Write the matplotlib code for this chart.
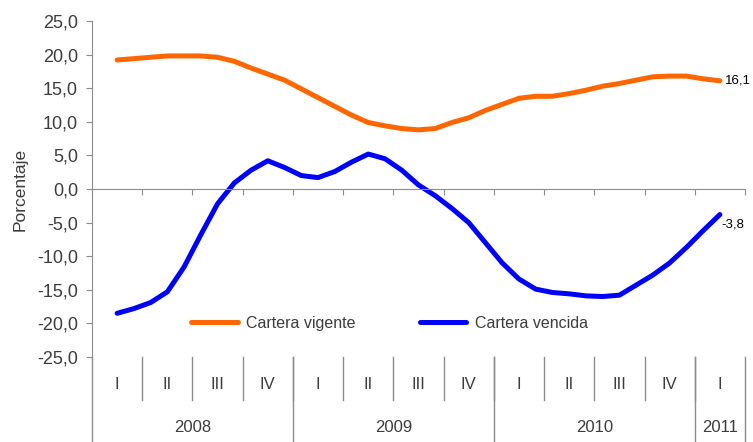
"""Cartera vigente vs cartera vencida, variación anual (%)."""

import matplotlib

matplotlib.use("Agg")
import matplotlib.pyplot as plt
from matplotlib.ticker import FuncFormatter

plt.rcParams["font.family"] = ["Liberation Sans", "DejaVu Sans"]

# monthly observations, Jan 2008 .. Mar 2011 plotted at quarter centres
CARTERA_VIGENTE = [
    19.2, 19.4, 19.6, 19.8, 19.8, 19.8, 19.6, 19.0, 18.0, 17.1, 16.2, 14.9,
    13.6, 12.3, 11.0, 9.9, 9.4, 9.0, 8.8, 9.0, 9.9, 10.6, 11.7, 12.6,
    13.5, 13.8, 13.8, 14.2, 14.7, 15.3, 15.7, 16.2, 16.7, 16.8, 16.8, 16.4,
    16.1,
]
CARTERA_VENCIDA = [
    -18.5, -17.8, -16.9, -15.3, -11.6, -6.8, -2.2, 0.9, 2.8, 4.2, 3.2, 2.0,
    1.7, 2.6, 4.0, 5.2, 4.5, 2.8, 0.6, -1.0, -2.9, -5.0, -8.0, -11.0,
    -13.4, -14.9, -15.4, -15.6, -15.9, -16.0, -15.8, -14.3, -12.8, -11.0, -8.7, -6.2,
    -3.8,
]
QUARTERS = ["I", "II", "III", "IV"] * 3 + ["I"]
YEARS = ["2008", "2009", "2010", "2011"]
YEAR_QUARTERS = [4, 4, 4, 1]
Y_TICKS = [-25, -20, -15, -10, -5, 0, 5, 10, 15, 20, 25]

ORANGE = "#FF6600"
BLUE = "#0000FF"
GRID = "#8c8c8c"
TEXT = "#3c3c3c"


def _comma(v: float) -> str:
    return f"{v:.1f}".replace(".", ",")


def main() -> None:
    fig = plt.figure(figsize=(7.53, 4.42), dpi=100)
    ax = fig.add_axes([92 / 753, 1 - 357 / 442, (745 - 92) / 753, 336 / 442])

    x = [0.5 + k / 3 for k in range(len(CARTERA_VIGENTE))]
    ax.plot(x, CARTERA_VIGENTE, color=ORANGE, linewidth=3.6, solid_capstyle="round",
            label="Cartera vigente")
    ax.plot(x, CARTERA_VENCIDA, color=BLUE, linewidth=3.6, solid_capstyle="round",
            label="Cartera vencida")

    n_q = len(QUARTERS)
    ax.set_xlim(0, n_q)
    ax.set_ylim(-25, 25)
    ax.set_yticks(Y_TICKS)
    ax.yaxis.set_major_formatter(FuncFormatter(lambda v, _: _comma(v)))
    ax.tick_params(axis="y", direction="out", length=4, color=GRID, labelsize=13,
                   labelcolor=TEXT, pad=6)

    ax.spines["top"].set_visible(False)
    ax.spines["right"].set_visible(False)
    ax.spines["left"].set_color(GRID)
    ax.spines["bottom"].set_color(GRID)
    ax.spines["bottom"].set_position(("data", 0))
    ax.set_xticks(range(n_q + 1))
    ax.set_xticklabels([])
    ax.tick_params(axis="x", direction="out", length=4, color=GRID)

    ax.set_ylabel("Porcentaje", fontsize=12.5, color=TEXT, labelpad=7)

    # category axis drawn below the plot area
    trans = ax.get_xaxis_transform()
    ax.plot([0, 0], [0, -0.26], transform=trans, color=GRID, lw=1, clip_on=False)
    for i in range(1, n_q):
        ax.plot([i, i], [0, -0.128], transform=trans, color=GRID, lw=1, clip_on=False)
    for i, q in enumerate(QUARTERS):
        ax.text(i + 0.5, -0.083, q, transform=trans, ha="center", va="center",
                fontsize=12, color=TEXT)
    start = 0
    for year, nq in zip(YEARS, YEAR_QUARTERS):
        end = start + nq
        ax.plot([end, end], [0, -0.26], transform=trans, color=GRID, lw=1, clip_on=False)
        ax.text((start + end) / 2, -0.211, year, transform=trans, ha="center", va="center",
                fontsize=12, color=TEXT)
        start = end

    # end-point labels
    ax.annotate(_comma(CARTERA_VIGENTE[-1]), (x[-1], CARTERA_VIGENTE[-1]),
                xytext=(3.5, 0), textcoords="offset points", va="center", ha="left",
                fontsize=9.5, color="black")
    ax.annotate(_comma(CARTERA_VENCIDA[-1]), (x[-1], CARTERA_VENCIDA[-1]),
                xytext=(1, -7), textcoords="offset points", va="center", ha="left",
                fontsize=9.5, color="black")

    ax.legend(loc="center left", bbox_to_anchor=(0.13, 0.1), ncol=2, frameon=False,
              fontsize=11.5, handlelength=2.9, handletextpad=0.55, columnspacing=4.0,
              labelcolor=TEXT)

    fig.savefig("out.png", dpi=100)
    plt.close(fig)


if __name__ == "__main__":
    main()
